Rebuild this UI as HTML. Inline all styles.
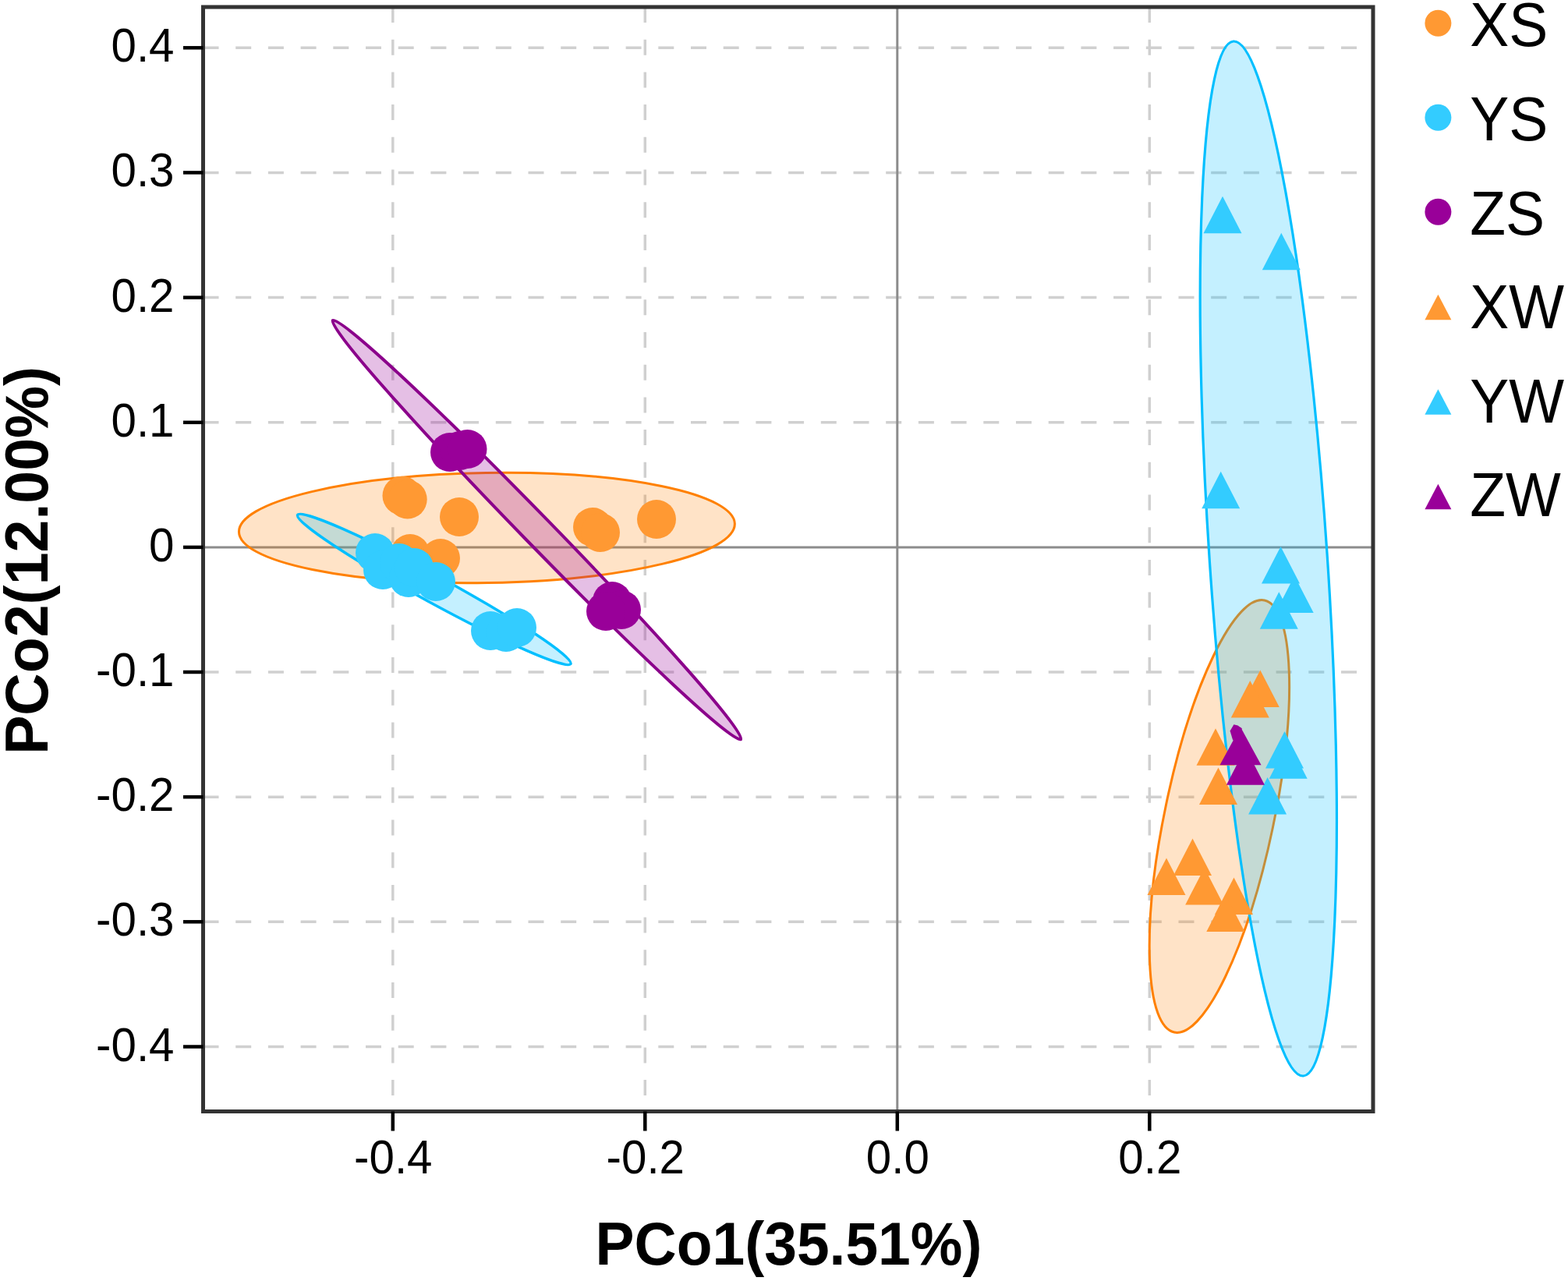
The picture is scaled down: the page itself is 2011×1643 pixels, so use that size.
<!DOCTYPE html>
<html><head><meta charset="utf-8"><title>PCoA</title>
<style>html,body{margin:0;padding:0;background:#fff;}svg{display:block;}#w{width:2011px;height:1643px;}</style>
</head><body><div id="w">
<svg width="2011" height="1643" viewBox="0 0 2011 1643">
<rect x="0" y="0" width="2011" height="1643" fill="#ffffff"/>
<g stroke="#d0d0d0" stroke-width="3.5" stroke-dasharray="20 21.7" fill="none">
<line x1="260.5" y1="61.3" x2="1761.0" y2="61.3"/>
<line x1="260.5" y1="221.4" x2="1761.0" y2="221.4"/>
<line x1="260.5" y1="381.6" x2="1761.0" y2="381.6"/>
<line x1="260.5" y1="541.8" x2="1761.0" y2="541.8"/>
<line x1="260.5" y1="862.0" x2="1761.0" y2="862.0"/>
<line x1="260.5" y1="1022.2" x2="1761.0" y2="1022.2"/>
<line x1="260.5" y1="1182.3" x2="1761.0" y2="1182.3"/>
<line x1="260.5" y1="1342.5" x2="1761.0" y2="1342.5"/>
<line x1="503.8" y1="9.0" x2="503.8" y2="1425.5"/>
<line x1="827.3" y1="9.0" x2="827.3" y2="1425.5"/>
<line x1="1474.3" y1="9.0" x2="1474.3" y2="1425.5"/>
</g>
<line x1="260.5" y1="701.9" x2="1761.0" y2="701.9" stroke="#8c8c8c" stroke-width="3"/>
<line x1="1150.8" y1="9.0" x2="1150.8" y2="1425.5" stroke="#8c8c8c" stroke-width="3"/>
<ellipse cx="624.4" cy="677.0" rx="318.0" ry="70.5" transform="rotate(-0.94 624.4 677.0)" fill="rgba(255,128,0,0.22)" stroke="#FF8000" stroke-width="3"/>
<ellipse cx="556.8" cy="756.0" rx="199.5" ry="17.0" transform="rotate(28.60 556.8 756.0)" fill="rgba(0,191,255,0.23)" stroke="#00BFFF" stroke-width="3.5"/>
<ellipse cx="688.4" cy="679.6" rx="375.0" ry="18.5" transform="rotate(45.75 688.4 679.6)" fill="rgba(153,0,153,0.25)" stroke="#8B008B" stroke-width="4"/>
<ellipse cx="1563.9" cy="1047.0" rx="283.0" ry="70.0" transform="rotate(-78.20 1563.9 1047.0)" fill="rgba(255,128,0,0.22)" stroke="#FF8000" stroke-width="3"/>
<ellipse cx="1626.8" cy="716.5" rx="665.0" ry="75.5" transform="rotate(86.14 1626.8 716.5)" fill="rgba(0,191,255,0.23)" stroke="#00BFFF" stroke-width="3.2"/>
<circle cx="515.5" cy="635.7" r="25" fill="#FF9933"/>
<circle cx="522.7" cy="640.5" r="25" fill="#FF9933"/>
<circle cx="589" cy="663" r="25" fill="#FF9933"/>
<circle cx="526" cy="710" r="25" fill="#FF9933"/>
<circle cx="565" cy="716" r="25" fill="#FF9933"/>
<circle cx="760" cy="676" r="25" fill="#FF9933"/>
<circle cx="770" cy="683" r="25" fill="#FF9933"/>
<circle cx="842" cy="666" r="25" fill="#FF9933"/>
<circle cx="481" cy="709" r="25" fill="#33CCFF"/>
<circle cx="491" cy="731" r="25" fill="#33CCFF"/>
<circle cx="512" cy="722" r="25" fill="#33CCFF"/>
<circle cx="524" cy="741" r="25" fill="#33CCFF"/>
<circle cx="531" cy="728" r="25" fill="#33CCFF"/>
<circle cx="559" cy="746" r="25" fill="#33CCFF"/>
<circle cx="629" cy="809" r="25" fill="#33CCFF"/>
<circle cx="649" cy="811" r="25" fill="#33CCFF"/>
<circle cx="663" cy="805" r="25" fill="#33CCFF"/>
<circle cx="577" cy="580" r="25" fill="#990099"/>
<circle cx="590" cy="578" r="25" fill="#990099"/>
<circle cx="599.5" cy="576" r="25" fill="#990099"/>
<circle cx="785" cy="771" r="25" fill="#990099"/>
<circle cx="797" cy="782" r="25" fill="#990099"/>
<circle cx="777" cy="784" r="25" fill="#990099"/>
<path d="M1616.30 859.50L1640.80 907.00L1591.80 907.00Z" fill="#FF9933"/>
<path d="M1603.30 872.90L1627.80 920.40L1578.80 920.40Z" fill="#FF9933"/>
<path d="M1559.00 934.30L1583.50 981.80L1534.50 981.80Z" fill="#FF9933"/>
<path d="M1562.50 984.40L1587.00 1031.90L1538.00 1031.90Z" fill="#FF9933"/>
<path d="M1496.00 1100.50L1520.50 1148.00L1471.50 1148.00Z" fill="#FF9933"/>
<path d="M1529.50 1075.50L1554.00 1123.00L1505.00 1123.00Z" fill="#FF9933"/>
<path d="M1544.70 1112.90L1569.20 1160.40L1520.20 1160.40Z" fill="#FF9933"/>
<path d="M1582.50 1125.60L1607.00 1173.10L1558.00 1173.10Z" fill="#FF9933"/>
<path d="M1571.80 1147.50L1596.30 1195.00L1547.30 1195.00Z" fill="#FF9933"/>
<path d="M1568.00 251.70L1592.50 299.20L1543.50 299.20Z" fill="#33CCFF"/>
<path d="M1643.30 298.70L1667.80 346.20L1618.80 346.20Z" fill="#33CCFF"/>
<path d="M1565.70 604.70L1590.20 652.20L1541.20 652.20Z" fill="#33CCFF"/>
<path d="M1642.50 701.00L1667.00 748.50L1618.00 748.50Z" fill="#33CCFF"/>
<path d="M1660.20 738.60L1684.70 786.10L1635.70 786.10Z" fill="#33CCFF"/>
<path d="M1640.30 759.20L1664.80 806.70L1615.80 806.70Z" fill="#33CCFF"/>
<path d="M1647.50 937.90L1672.00 985.40L1623.00 985.40Z" fill="#33CCFF"/>
<path d="M1652.20 951.30L1676.70 998.80L1627.70 998.80Z" fill="#33CCFF"/>
<path d="M1625.60 996.90L1650.10 1044.40L1601.10 1044.40Z" fill="#33CCFF"/>
<path d="M1591.00 932.50L1617.55 981.30L1564.45 981.30Z" fill="#990099"/>
<path d="M1597.40 959.30L1621.90 1006.80L1572.90 1006.80Z" fill="#990099"/>
<path d="M1582.4 929.3L1587.5 930.6L1593 934.5L1585 948L1581.2 949.5L1577.6 937.5Z" fill="#990099"/>
<rect x="260.5" y="9.0" width="1500.5" height="1416.5" fill="none" stroke="#333333" stroke-width="5"/>
<g stroke="#000000" stroke-width="4.5">
<line x1="235" y1="61.3" x2="260.5" y2="61.3"/>
<line x1="235" y1="221.4" x2="260.5" y2="221.4"/>
<line x1="235" y1="381.6" x2="260.5" y2="381.6"/>
<line x1="235" y1="541.8" x2="260.5" y2="541.8"/>
<line x1="235" y1="701.9" x2="260.5" y2="701.9"/>
<line x1="235" y1="862.0" x2="260.5" y2="862.0"/>
<line x1="235" y1="1022.2" x2="260.5" y2="1022.2"/>
<line x1="235" y1="1182.3" x2="260.5" y2="1182.3"/>
<line x1="235" y1="1342.5" x2="260.5" y2="1342.5"/>
<line x1="503.8" y1="1425.5" x2="503.8" y2="1450.5"/>
<line x1="827.3" y1="1425.5" x2="827.3" y2="1450.5"/>
<line x1="1150.8" y1="1425.5" x2="1150.8" y2="1450.5"/>
<line x1="1474.3" y1="1425.5" x2="1474.3" y2="1450.5"/>
</g>
<g font-family="'Liberation Sans', Arial, Helvetica, sans-serif" font-size="58.3" fill="#000000">
<text transform="translate(223.5 79.3) scale(1 1.055)" text-anchor="end">0.4</text>
<text transform="translate(223.5 239.4) scale(1 1.055)" text-anchor="end">0.3</text>
<text transform="translate(223.5 399.6) scale(1 1.055)" text-anchor="end">0.2</text>
<text transform="translate(223.5 559.8) scale(1 1.055)" text-anchor="end">0.1</text>
<text transform="translate(223.5 719.9) scale(1 1.055)" text-anchor="end">0</text>
<text transform="translate(223.5 880.0) scale(1 1.055)" text-anchor="end">-0.1</text>
<text transform="translate(223.5 1040.2) scale(1 1.055)" text-anchor="end">-0.2</text>
<text transform="translate(223.5 1200.3) scale(1 1.055)" text-anchor="end">-0.3</text>
<text transform="translate(223.5 1360.5) scale(1 1.055)" text-anchor="end">-0.4</text>
<text transform="translate(504.3 1505) scale(1 1.055)" text-anchor="middle">-0.4</text>
<text transform="translate(827.8 1505) scale(1 1.055)" text-anchor="middle">-0.2</text>
<text transform="translate(1151.3 1505) scale(1 1.055)" text-anchor="middle">0.0</text>
<text transform="translate(1474.8 1505) scale(1 1.055)" text-anchor="middle">0.2</text>
</g>
<text transform="translate(1011.5 1621.5) scale(1 1.045)" text-anchor="middle" font-family="'Liberation Sans', Arial, Helvetica, sans-serif" font-weight="bold" font-size="75" fill="#000000">PCo1(35.51%)</text>
<text transform="translate(60.8 718.9) rotate(-90) scale(1 1.045)" text-anchor="middle" font-family="'Liberation Sans', Arial, Helvetica, sans-serif" font-weight="bold" font-size="75.3" fill="#000000">PCo2(12.00%)</text>
<circle cx="1844.4" cy="29.8" r="17" fill="#FF9933"/>
<text transform="translate(1885.2 59.3) scale(1 1.05)" font-family="'Liberation Sans', Arial, Helvetica, sans-serif" font-size="75" fill="#000000">XS</text>
<circle cx="1844.4" cy="150.8" r="17" fill="#33CCFF"/>
<text transform="translate(1885.2 179.9) scale(1 1.05)" font-family="'Liberation Sans', Arial, Helvetica, sans-serif" font-size="75" fill="#000000">YS</text>
<circle cx="1844.4" cy="271.7" r="17" fill="#990099"/>
<text transform="translate(1885.2 300.5) scale(1 1.05)" font-family="'Liberation Sans', Arial, Helvetica, sans-serif" font-size="75" fill="#000000">ZS</text>
<path d="M1844.40 377.80L1861.40 410.30L1827.40 410.30Z" fill="#FF9933"/>
<text transform="translate(1885.2 421.1) scale(1 1.05)" font-family="'Liberation Sans', Arial, Helvetica, sans-serif" font-size="75" fill="#000000">XW</text>
<path d="M1844.40 499.25L1861.40 531.75L1827.40 531.75Z" fill="#33CCFF"/>
<text transform="translate(1885.2 541.7) scale(1 1.05)" font-family="'Liberation Sans', Arial, Helvetica, sans-serif" font-size="75" fill="#000000">YW</text>
<path d="M1844.40 620.70L1861.40 653.20L1827.40 653.20Z" fill="#990099"/>
<text transform="translate(1885.2 662.3) scale(1 1.05)" font-family="'Liberation Sans', Arial, Helvetica, sans-serif" font-size="75" fill="#000000">ZW</text>
</svg>
</div></body></html>
